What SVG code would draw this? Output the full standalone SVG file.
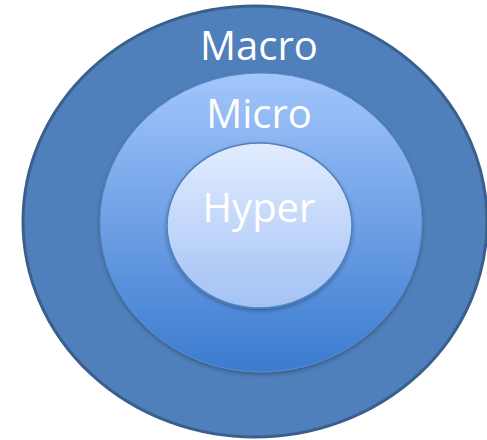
<svg xmlns="http://www.w3.org/2000/svg" width="487" height="440" viewBox="0 0 487 440">
<style>
.lbl{font-family:"Open Sans","Liberation Sans",sans-serif;font-size:40px;fill:#ffffff;text-anchor:middle}
</style>
<defs>
<linearGradient id="gMid" x1="0" y1="0" x2="0" y2="1">
<stop offset="0" stop-color="#a3c6fc"/>
<stop offset="1" stop-color="#3b7bcf"/>
</linearGradient>
<linearGradient id="gIn" x1="0" y1="0" x2="0" y2="1">
<stop offset="0" stop-color="#e2ecfe"/>
<stop offset="1" stop-color="#a3c2f5"/>
</linearGradient>
<filter id="sh" x="-10%" y="-10%" width="120%" height="125%">
<feDropShadow dx="0" dy="2" stdDeviation="2" flood-color="#000" flood-opacity="0.3"/>
</filter>
</defs>
<g id="macro">
<ellipse cx="255" cy="221.5" rx="232" ry="215.5" fill="#4f80bb" stroke="#3a5f8d" stroke-width="3"/>
<text class="lbl" x="259" y="60">Macro</text>
</g>
<g id="micro">
<ellipse cx="261" cy="222.5" rx="161" ry="149.5" fill="url(#gMid)" stroke="#5a8ccc" stroke-width="1" filter="url(#sh)"/>
<text class="lbl" x="259" y="128">Micro</text>
</g>
<g id="hyper">
<ellipse cx="259.5" cy="225.5" rx="92.5" ry="82.5" fill="url(#gIn)" stroke="#4f81bd" stroke-width="1.5" filter="url(#sh)"/>
<text class="lbl" x="259" y="222">Hyper</text>
</g>
<g id="connectors"/>
</svg>
